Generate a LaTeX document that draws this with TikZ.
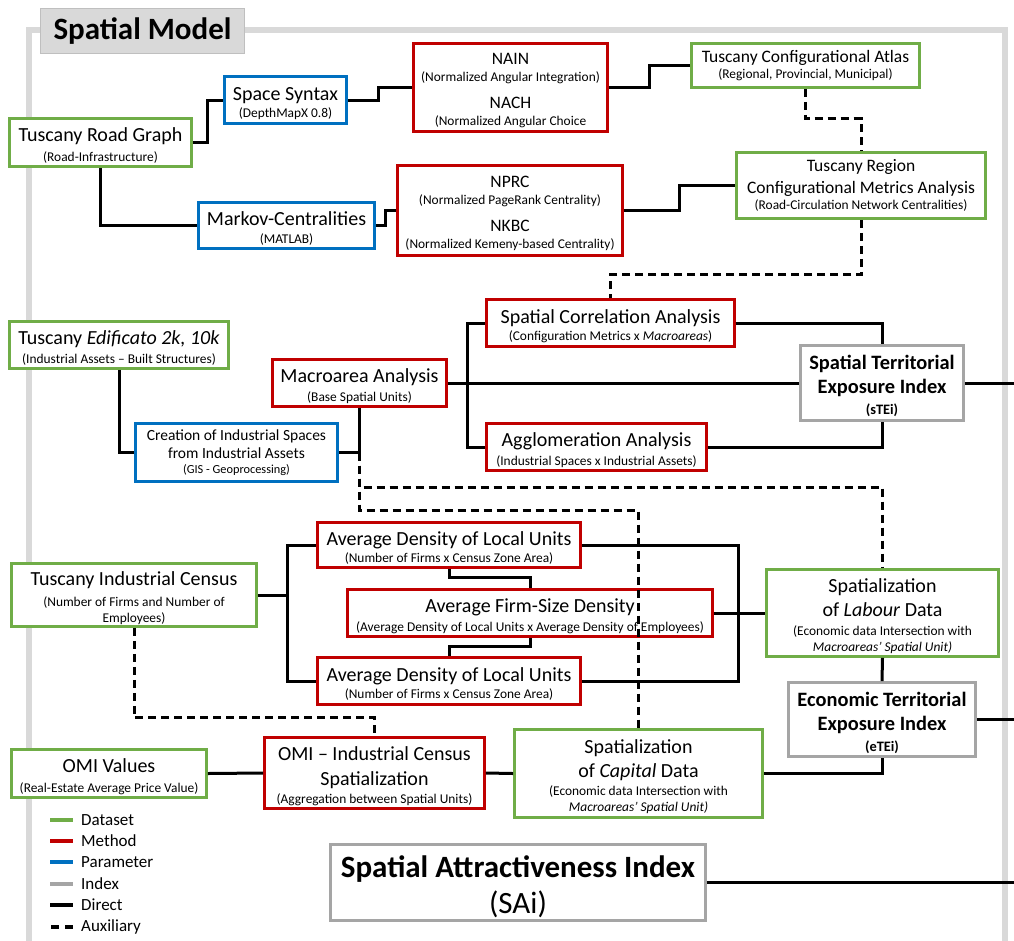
\documentclass[tikz,border=0pt]{standalone}
\usepackage{fontspec}
\setmainfont{Carlito}
\usetikzlibrary{calc}
\definecolor{dsgreen}{HTML}{70AD47}
\definecolor{mred}{HTML}{C00000}
\definecolor{pblue}{HTML}{0070C0}
\definecolor{igray}{HTML}{A5A5A5}
\definecolor{framegray}{HTML}{D9D9D9}
\definecolor{titleborder}{HTML}{BFBFBF}
\newcommand{\MainSz}{\fontsize{20}{22}\selectfont}
\newcommand{\MidSz}{\fontsize{17.5}{20}\selectfont}
\newcommand{\SubSz}{\fontsize{13.4}{16}\selectfont}
\newcommand{\SmSubSz}{\fontsize{12.3}{15}\selectfont}
\newcommand{\CreSz}{\fontsize{15.5}{19}\selectfont}
\newcommand{\IdxSz}{\fontsize{20.4}{24}\selectfont}
\newcommand{\IdxSubSz}{\fontsize{14.4}{17}\selectfont}
\newcommand{\SaiSz}{\fontsize{31}{36}\selectfont}
\newcommand{\TitleSz}{\fontsize{31}{36}\selectfont}
\newcommand{\LegSz}{\fontsize{17}{20}\selectfont}
\newcommand{\Tp}{\rule{0pt}{1em}}
\tikzset{
  box/.style={draw, line width=2.6pt, fill=white, align=center, inner sep=1pt, font=\MainSz},
  dataset/.style={box, draw=dsgreen},
  method/.style={box, draw=mred},
  param/.style={box, draw=pblue},
  index/.style={box, draw=igray},
  conn/.style={draw=black, line width=3pt},
  aux/.style={draw=black, line width=3pt, dash pattern=on 8pt off 5pt},
  legline/.style={line width=3.5pt},
  legtext/.style={anchor=west, font=\LegSz, inner sep=0pt}
}
\begin{document}
\begin{tikzpicture}[x=1pt,y=-1pt]
\useasboundingbox (0,0) rectangle (1014,940);
% frame
\draw[line width=6pt, framegray] (29,950) -- (29,30) -- (1005,30) -- (1005,950);
\node[fill=framegray, draw=titleborder, line width=0.8pt, minimum width=204, minimum height=45, font=\TitleSz\bfseries, inner sep=0pt] (title) at (142.5,31) {Spatial Model};

% nodes
\node[dataset, minimum width=182, minimum height=48] (road) at (100.5,142.5) {\Tp Tuscany Road Graph\\[-2.5pt]{\SubSz (Road-Infrastructure)}};
\node[param, minimum width=122, minimum height=47] (ss) at (285.5,100) {\Tp Space Syntax\\[-4.5pt]{\SubSz (DepthMapX 0.8)}};
\node[method, minimum width=194, minimum height=88, font=\MidSz] (nain) at (510.5,87.5) {\Tp NAIN\\[-3.5pt]{\SubSz (Normalized Angular Integration)}\\[7.5pt]NACH\\[-3.5pt]{\SubSz (Normalized Angular Choice}};
\node[dataset, minimum width=228, minimum height=44, font=\MidSz] (atlas) at (805.5,65.5) {Tuscany Configurational Atlas\\[-4.5pt]{\SubSz (Regional, Provincial, Municipal)}};
\node[param, minimum width=176, minimum height=46] (markov) at (286.5,225.5) {\Tp Markov-Centralities\\[-4.5pt]{\SubSz (MATLAB)}};
\node[method, minimum width=225, minimum height=90, font=\MidSz] (nprc) at (510,210.5) {\Tp NPRC\\[-3.5pt]{\SubSz (Normalized PageRank Centrality)}\\[7.5pt]NKBC\\[-3.5pt]{\SubSz (Normalized Kemeny-based Centrality)}};
\node[dataset, minimum width=249, minimum height=66, font=\MidSz] (region) at (861,185.5) {Tuscany Region\\[2pt]Configurational Metrics Analysis\\[-3.5pt]{\SubSz (Road-Circulation Network Centralities)}};
\node[dataset, minimum width=219, minimum height=47] (edif) at (119,345) {\Tp Tuscany \textit{Edificato 2k, 10k}\\[-3.5pt]{\SubSz (Industrial Assets – Built Structures)}};
\node[param, minimum width=202, minimum height=58, font=\CreSz] (creation) at (236.5,452.5) {Creation of Industrial Spaces\\[-1pt]from Industrial Assets\\[-3.5pt]{\SmSubSz (GIS - Geoprocessing)}};
\node[method, minimum width=174, minimum height=47] (macro) at (359.5,383) {\Tp Macroarea Analysis\\[-3.5pt]{\SubSz (Base Spatial Units)}};
\node[method, minimum width=248, minimum height=47] (scorr) at (610.5,323) {\Tp Spatial Correlation Analysis\\[-4.5pt]{\SubSz (Configuration Metrics x \textit{Macroareas})}};
\node[method, minimum width=220, minimum height=47] (aggl) at (596.5,447) {\Tp Agglomeration Analysis\\[-2.5pt]{\SubSz (Industrial Spaces x Industrial Assets)}};
\node[index, minimum width=163, minimum height=75, font=\IdxSz] (stei) at (882,383) {\Tp\textbf{Spatial Territorial}\\\textbf{Exposure Index}\\[-3pt]{\IdxSubSz\bfseries (sTEi)}};
\node[method, minimum width=263, minimum height=45] (adlu1) at (449,545) {\Tp Average Density of Local Units\\[-4.5pt]{\SubSz (Number of Firms x Census Zone Area)}};
\node[method, minimum width=365, minimum height=47] (firm) at (530,613) {\Tp Average Firm-Size Density\\[-3.5pt]{\SubSz (Average Density of Local Units x Average Density of Employees)}};
\node[method, minimum width=263, minimum height=47] (adlu2) at (449,681) {\Tp Average Density of Local Units\\[-4.5pt]{\SubSz (Number of Firms x Census Zone Area)}};
\node[dataset, minimum width=245, minimum height=63] (census) at (134,595) {\Tp Tuscany Industrial Census\\[-1.5pt]{\SubSz (Number of Firms and Number of}\\[-6pt]{\SubSz Employees)}};
\node[dataset, minimum width=232, minimum height=87] (labour) at (882.5,613) {\Tp Spatialization\\[2pt]of \textit{Labour} Data\\[-3.5pt]{\SubSz (Economic data Intersection with}\\[-6pt]{\SubSz\itshape Macroareas’ Spatial Unit)}};
\node[index, minimum width=187, minimum height=74, font=\IdxSz] (etei) at (882,719.5) {\Tp\textbf{Economic Territorial}\\\textbf{Exposure Index}\\[-3pt]{\IdxSubSz\bfseries (eTEi)}};
\node[dataset, minimum width=195, minimum height=48] (omiv) at (109,773.5) {\Tp OMI Values\\[-1.5pt]{\SubSz (Real-Estate Average Price Value)}};
\node[method, minimum width=220, minimum height=71] (omics) at (374.5,773) {\Tp OMI – Industrial Census\\[3pt]Spatialization\\[-4.5pt]{\SubSz (Aggregation between Spatial Units)}};
\node[dataset, minimum width=248, minimum height=88] (capital) at (638.5,773.5) {\Tp Spatialization\\[2pt]of \textit{Capital} Data\\[-3.5pt]{\SubSz (Economic data Intersection with}\\[-6pt]{\SubSz\itshape Macroareas’ Spatial Unit)}};
\node[index, minimum width=375, minimum height=76, font=\SaiSz] (sai) at (518,882.5) {\Tp\textbf{Spatial Attractiveness Index}\\(SAi)};

% helper coordinates
\coordinate (mbus) at (467,383);
\coordinate (cbus) at (287,595);
\coordinate (mj) at (creation.east -| macro.south);
\coordinate (steiout) at (1014,383);
\coordinate (eteiout) at (1014,719.5);
\coordinate (saiout) at (1014,882.5);

% auxiliary (dashed) connectors
\draw[aux] (atlas.south) -- ++(0,30) -| (region.north);
\draw[aux] (region.south) -- ++(0,55) -| (scorr.north);
\draw[aux] (mj) -- ++(0,35) -| (labour.north);
\draw[aux] (mj) -- ++(0,58) -| (capital.north);
\draw[aux] (census.south) -- ++(0,90) -| (omics.north);

% direct connectors
\draw[conn] (road.east) -- ++(15,0) |- (ss.west);
\draw[conn] (ss.east) -- ++(31,0) |- (nain.west);
\draw[conn] (nain.east) -- ++(41,0) |- (atlas.west);
\draw[conn] (road.south) |- (markov.west);
\draw[conn] (markov.east) -- ++(10,0) |- (nprc.west);
\draw[conn] (nprc.east) -- ++(56,0) |- (region.west);
\draw[conn] (edif.south) |- (creation.west);
\draw[conn] (creation.east) -| (macro.south);
\draw[conn] (macro.east) -- (stei.west);
\draw[conn] (scorr.west) -| (mbus) |- (aggl.west);
\draw[conn] (scorr.east) -| (stei.north);
\draw[conn] (aggl.east) -| (stei.south);
\draw[conn] (stei.east) -- (steiout);
\draw[conn] (census.east) -- (cbus);
\draw[conn] (adlu1.west) -| (cbus) |- (adlu2.west);
\draw[conn] (adlu1.south) -- ++(0,9) -| (firm.north);
\draw[conn] (firm.south) -- ++(0,9) -| (adlu2.north);
\draw[conn] (adlu1.east) -- ++(157,0) |- (adlu2.east);
\draw[conn] (firm.east) -- (labour.west);
\draw[conn] (labour.south) -- (etei.north);
\draw[conn] (etei.east) -- (eteiout);
\draw[conn] (capital.east) -| (etei.south);
\draw[conn] (omiv.east) -- (omics.west);
\draw[conn] (omics.east) -- (capital.west);
\draw[conn] (sai.east) -- (saiout);

% legend
\draw[legline, dsgreen] (50,820) -- (73,820);
\node[legtext] (lg1) at (81,820) {Dataset};
\draw[legline, mred] (50,841) -- (73,841);
\node[legtext] (lg2) at (81,841) {Method};
\draw[legline, pblue] (50,862) -- (73,862);
\node[legtext] (lg3) at (81,862) {Parameter};
\draw[legline, igray] (50,884) -- (73,884);
\node[legtext] (lg4) at (81,884) {Index};
\draw[legline, black] (50,905) -- (73,905);
\node[legtext] (lg5) at (81,905) {Direct};
\draw[legline, black, dash pattern=on 8pt off 6pt] (51,927) -- (73,927);
\node[legtext] (lg6) at (81,927) {Auxiliary};
\end{tikzpicture}
\end{document}
